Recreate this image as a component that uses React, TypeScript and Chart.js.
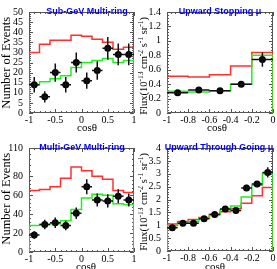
import React, { useEffect, useRef } from 'react';
import { Chart, registerables } from 'chart.js';
Chart.register(...registerables);

// ---------- Sub-GeV Multi-ring ----------
const sgEdges = [-1, -0.8, -0.6, -0.4, -0.2, 0, 0.2, 0.4, 0.6, 0.8, 1];
const sgRed = [30, 34, 36, 36, 38.5, 38, 36.5, 35, 31.5, 32.5];
const sgGreen = [14, 15.5, 17, 18.5, 22.5, 25, 26, 27, 25, 26];
const sgX = [-0.9, -0.7, -0.5, -0.3, -0.1, 0.1, 0.3, 0.5, 0.7, 0.9];
const sgData = [14, 8, 20, 14, 25, 16, 21, 32, 29, 29];
const sgErr = [3.8, 2.8, 4.5, 3.8, 5, 4, 4.6, 5.6, 5.4, 5.4];

// ---------- Upward Stopping mu ----------
const usEdges = [-1, -0.8, -0.6, -0.4, -0.2, 0];
const usRed = [0.51, 0.5, 0.53, 0.65, 0.84];
const usGreen = [0.3, 0.29, 0.31, 0.4, 0.8];
const usX = [-0.9, -0.7, -0.5, -0.3, -0.1];
const usData = [0.28, 0.32, 0.31, 0.4, 0.74];
const usErr = [0.03, 0.035, 0.03, 0.035, 0.1];

// ---------- Multi-GeV Multi-ring ----------
const mgEdges = [-1, -0.8, -0.6, -0.4, -0.2, 0, 0.2, 0.4, 0.6, 0.8, 1];
const mgRed = [65, 66, 69, 78, 90, 86, 80, 77, 65, 63];
const mgGreen = [28, 29, 30, 33, 45, 57, 61, 60, 51, 50];
const mgX = [-0.9, -0.7, -0.5, -0.3, -0.1, 0.1, 0.3, 0.5, 0.7, 0.9];
const mgData = [18, 29, 31, 28, 41, 69, 55, 54, 59, 55];
const mgErr = [4, 5, 5.5, 5, 6, 8, 7, 7, 7.5, 7];

// ---------- Upward Through Going mu ----------
const utEdges = [-1, -0.9, -0.8, -0.7, -0.6, -0.5, -0.4, -0.3, -0.2, -0.1, 0];
const utRed = [1.05, 1.15, 1.22, 1.3, 1.42, 1.52, 1.65, 1.85, 2.15, 2.47];
const utGreen = [0.98, 1.08, 1.15, 1.27, 1.42, 1.6, 1.75, 2.1, 2.55, 3.0];
const utX = [-0.95, -0.85, -0.75, -0.65, -0.55, -0.45, -0.35, -0.25, -0.15, -0.05];
const utData = [0.9, 1.08, 1.08, 1.25, 1.42, 1.63, 1.57, 2.45, 2.6, 3.05];
const utErr = [0.07, 0.06, 0.06, 0.07, 0.07, 0.09, 0.08, 0.12, 0.12, 0.2];

const titles = ['Sub-GeV Multi-ring', 'Upward Stopping \u03bc', 'Multi-GeV Multi-ring', 'Upward Through Going \u03bc'];
const eventsTitle = 'Number of Events';
const fluxTitle: [string, boolean][] = [
  ['Flux(10', false], ['-13', true], [' cm', false], ['-2', true], [' s', false], ['-1', true], [' sr', false], ['-1', true], [')', false],
];
const xTitle = 'cos\u03b8';

const SERIF = "'Liberation Serif', 'Times New Roman', serif";
const SANS = "'Liberation Sans', Arial, sans-serif";
const RED = '#ff3030';
const GREEN = '#22ee22';
const FRAME = '#555555';

type PanelCfg = {
  left: number; top: number; width: number; height: number;
  area: { left: number; right: number; top: number; bottom: number };
  edges: number[]; red: number[]; green: number[];
  px: number[]; py: number[]; pe: number[]; dx: number;
  xMin: number; xMax: number; xStep: number; yMax: number; yStep: number;
  title: string; titleX: number; flux: boolean; xTitleX: number; xTitleY: number;
};

const panels: PanelCfg[] = [
  {
    left: 0, top: 0, width: 138, height: 136,
    area: { left: 29, right: 136, top: 5, bottom: 113 },
    edges: sgEdges, red: sgRed, green: sgGreen, px: sgX, py: sgData, pe: sgErr, dx: 0.1,
    xMin: -1, xMax: 1, xStep: 0.5, yMax: 50, yStep: 5,
    title: titles[0], titleX: 87, flux: false, xTitleX: 87, xTitleY: 128,
  },
  {
    left: 138, top: 0, width: 139, height: 136,
    area: { left: 29, right: 136, top: 5, bottom: 113 },
    edges: usEdges, red: usRed, green: usGreen, px: usX, py: usData, pe: usErr, dx: 0.1,
    xMin: -1, xMax: 0, xStep: 0.2, yMax: 1.4, yStep: 0.2,
    title: titles[1], titleX: 82, flux: true, xTitleX: 79, xTitleY: 128,
  },
  {
    left: 0, top: 136, width: 138, height: 133,
    area: { left: 29, right: 136, top: 8, bottom: 116 },
    edges: mgEdges, red: mgRed, green: mgGreen, px: mgX, py: mgData, pe: mgErr, dx: 0.1,
    xMin: -1, xMax: 1, xStep: 0.5, yMax: 110, yStep: 20,
    title: titles[2], titleX: 82, flux: false, xTitleX: 86, xTitleY: 131.5,
  },
  {
    left: 138, top: 136, width: 139, height: 133,
    area: { left: 29, right: 136, top: 8, bottom: 115 },
    edges: utEdges, red: utRed, green: utGreen, px: utX, py: utData, pe: utErr, dx: 0.05,
    xMin: -1, xMax: 0, xStep: 0.2, yMax: 4, yStep: 0.5,
    title: titles[3], titleX: 81, flux: true, xTitleX: 77, xTitleY: 131.5,
  },
];

function histPoints(edges: number[], vals: number[]) {
  const pts = [{ x: edges[0], y: 0 }];
  for (let i = 0; i < vals.length; i++) pts.push({ x: edges[i], y: vals[i] });
  pts.push({ x: edges[edges.length - 1], y: vals[vals.length - 1] });
  pts.push({ x: edges[edges.length - 1], y: 0 });
  return pts;
}

const fmt = (v: number) => String(Number(Number(v).toFixed(3)));

function makePlugin(p: PanelCfg) {
  return {
    id: 'rootStyle',
    beforeDatasetsDraw(chart: any) {
      const { ctx, chartArea: a } = chart;
      const xs = chart.scales.x;
      const ys = chart.scales.y;
      ctx.save();
      ctx.strokeStyle = FRAME;
      ctx.lineWidth = 1;
      ctx.strokeRect(a.left + 0.5, a.top + 0.5, a.right - a.left - 1, a.bottom - a.top - 1);
      const nMinor = 5;
      ctx.beginPath();
      // x ticks
      const xt = xs.ticks.map((t: any) => t.value);
      for (let i = 0; i < xt.length; i++) {
        const px = Math.round(xs.getPixelForValue(xt[i])) + 0.5;
        ctx.moveTo(px, a.bottom); ctx.lineTo(px, a.bottom - 4);
        ctx.moveTo(px, a.top); ctx.lineTo(px, a.top + 4);
        if (i < xt.length - 1) {
          for (let k = 1; k < nMinor; k++) {
            const v = xt[i] + ((xt[i + 1] - xt[i]) * k) / nMinor;
            const q = Math.round(xs.getPixelForValue(v)) + 0.5;
            ctx.moveTo(q, a.bottom); ctx.lineTo(q, a.bottom - 2);
            ctx.moveTo(q, a.top); ctx.lineTo(q, a.top + 2);
          }
        }
      }
      const yt = ys.ticks.map((t: any) => t.value);
      const step = p.yStep;
      const yvals: number[] = [...yt];
      if (yvals[yvals.length - 1] < p.yMax) yvals.push(yvals[yvals.length - 1] + step);
      for (let i = 0; i < yvals.length; i++) {
        if (yvals[i] <= p.yMax + 1e-9) {
          const py = Math.round(ys.getPixelForValue(yvals[i])) + 0.5;
          ctx.moveTo(a.left, py); ctx.lineTo(a.left + 4, py);
          ctx.moveTo(a.right, py); ctx.lineTo(a.right - 4, py);
        }
        if (i < yvals.length - 1) {
          for (let k = 1; k < nMinor; k++) {
            const v = yvals[i] + ((yvals[i + 1] - yvals[i]) * k) / nMinor;
            if (v > p.yMax) continue;
            const q = Math.round(ys.getPixelForValue(v)) + 0.5;
            ctx.moveTo(a.left, q); ctx.lineTo(a.left + 2, q);
            ctx.moveTo(a.right, q); ctx.lineTo(a.right - 2, q);
          }
        }
      }
      ctx.stroke();
      ctx.restore();
    },
    afterDatasetsDraw(chart: any) {
      const { ctx } = chart;
      const xs = chart.scales.x;
      const ys = chart.scales.y;
      ctx.save();
      ctx.strokeStyle = '#111';
      ctx.lineWidth = 1.5;
      ctx.beginPath();
      for (let i = 0; i < p.px.length; i++) {
        const cx = xs.getPixelForValue(p.px[i]);
        const cy = ys.getPixelForValue(p.py[i]);
        ctx.moveTo(cx, ys.getPixelForValue(p.py[i] - p.pe[i]));
        ctx.lineTo(cx, ys.getPixelForValue(p.py[i] + p.pe[i]));
        ctx.moveTo(xs.getPixelForValue(p.px[i] - p.dx), cy);
        ctx.lineTo(xs.getPixelForValue(p.px[i] + p.dx), cy);
      }
      ctx.stroke();
      ctx.restore();
    },
    afterDraw(chart: any) {
      const { ctx, chartArea: a } = chart;
      ctx.save();
      // title
      ctx.fillStyle = '#0000ff';
      ctx.font = `bold 9px ${SANS}`;
      ctx.textAlign = 'center';
      ctx.textBaseline = 'alphabetic';
      ctx.fillText(p.title, p.titleX, a.top + 1.5);
      // x title
      ctx.fillStyle = '#000';
      ctx.font = `11px ${SERIF}`;
      ctx.textBaseline = 'middle';
      ctx.fillText(xTitle, p.xTitleX, p.xTitleY);
      // y title
      const topY = a.top + 5;
      if (!p.flux) {
        ctx.save();
        ctx.translate(7, topY);
        ctx.rotate(-Math.PI / 2);
        ctx.font = `12.5px ${SERIF}`;
        ctx.textAlign = 'right';
        ctx.textBaseline = 'middle';
        ctx.fillText(eventsTitle, 0, 0);
        ctx.restore();
      } else {
        ctx.save();
        const baseF = `10.5px ${SERIF}`;
        const supF = `7.5px ${SERIF}`;
        let total = 0;
        for (const [s, sup] of fluxTitle) {
          ctx.font = sup ? supF : baseF;
          total += ctx.measureText(s).width;
        }
        ctx.translate(9, topY);
        ctx.rotate(-Math.PI / 2);
        ctx.textAlign = 'left';
        ctx.textBaseline = 'alphabetic';
        let x = -total;
        for (const [s, sup] of fluxTitle) {
          ctx.font = sup ? supF : baseF;
          ctx.fillText(s, x, sup ? -4.5 : 0);
          x += ctx.measureText(s).width;
        }
        ctx.restore();
      }
      ctx.restore();
    },
  };
}

function Panel({ p }: { p: PanelCfg }) {
  const ref = useRef<HTMLCanvasElement | null>(null);
  useEffect(() => {
    if (!ref.current) return;
    const xh = p.height - p.area.bottom;
    const chart = new Chart(ref.current, {
      type: 'line',
      data: {
        datasets: [
          {
            type: 'scatter',
            data: p.px.map((x, i) => ({ x, y: p.py[i] })),
            pointRadius: 3.5,
            pointBackgroundColor: '#000',
            pointBorderColor: '#000',
            pointBorderWidth: 0,
            showLine: false,
            order: 0,
          } as any,
          {
            data: histPoints(p.edges, p.green),
            borderColor: GREEN,
            borderWidth: 1.5,
            pointRadius: 0,
            stepped: true,
            fill: false,
            order: 1,
          },
          {
            data: histPoints(p.edges, p.red),
            borderColor: RED,
            borderWidth: 1.5,
            pointRadius: 0,
            stepped: true,
            fill: false,
            order: 2,
          },
        ],
      },
      options: {
        responsive: false,
        animation: false,
        devicePixelRatio: 1,
        events: [],
        layout: { padding: { left: 0, right: p.width - p.area.right, top: p.area.top, bottom: 0 } },
        plugins: { legend: { display: false }, tooltip: { enabled: false } },
        scales: {
          x: {
            type: 'linear',
            min: p.xMin,
            max: p.xMax,
            afterFit: (s: any) => { s.height = xh; },
            grid: { display: false, drawTicks: false },
            border: { display: false },
            ticks: {
              stepSize: p.xStep,
              autoSkip: false,
              maxRotation: 0,
              color: '#000',
              padding: 1,
              font: { family: SERIF, size: 10 },
              callback: (v: any) => fmt(v),
            },
          },
          y: {
            type: 'linear',
            min: 0,
            max: p.yMax,
            afterFit: (s: any) => { s.width = p.area.left; },
            grid: { display: false, drawTicks: false },
            border: { display: false },
            ticks: {
              stepSize: p.yStep,
              autoSkip: false,
              color: '#000',
              padding: 6,
              font: { family: SERIF, size: 10 },
              callback: (v: any) => fmt(v),
            },
          },
        },
      } as any,
      plugins: [makePlugin(p)],
    });
    return () => chart.destroy();
  }, [p]);
  return (
    <canvas
      ref={ref}
      width={p.width}
      height={p.height}
      style={{ position: 'absolute', left: p.left, top: p.top, width: p.width, height: p.height }}
    />
  );
}

export default function App() {
  return (
    <div style={{ position: 'absolute', left: 0, top: 0, width: 277, height: 269, background: '#fff', overflow: 'hidden' }}>
      {panels.map((p, i) => (
        <Panel key={i} p={p} />
      ))}
    </div>
  );
}
